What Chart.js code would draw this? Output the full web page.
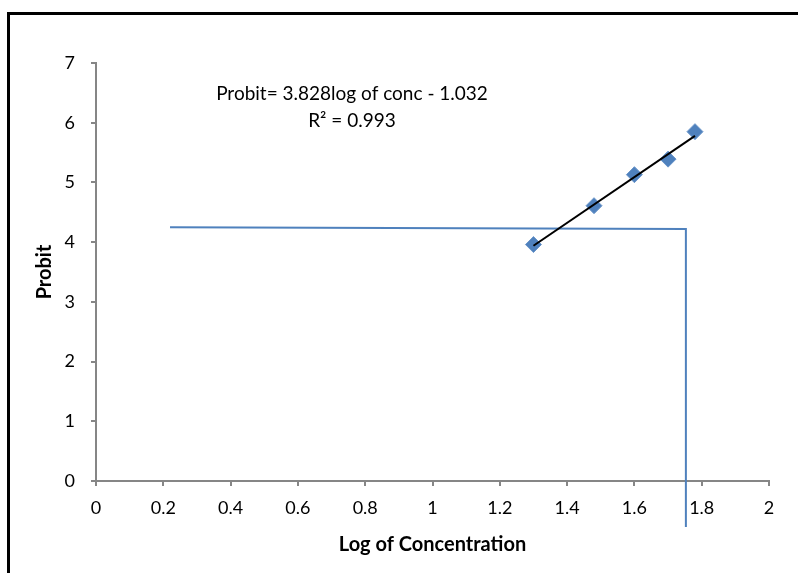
<!DOCTYPE html>
<html>
<head>
<meta charset="utf-8">
<script src="https://cdn.jsdelivr.net/npm/chart.js@4"></script>
<style>
html,body{margin:0;padding:0;background:#fff;}
#wrap{position:relative;width:798px;height:573px;}
</style>
</head>
<body>
<div id="wrap"><canvas id="c" width="798" height="573"></canvas></div>
<script>
// Data
const logConc = [1.3, 1.48, 1.6, 1.7, 1.78];
const probit = [3.96, 4.61, 5.13, 5.39, 5.85];
const trendX = [1.3, 1.78];
const trendY = [3.94, 5.78];
const refX = [0.22, 1.753, 1.753];
const refY = [4.25, 4.22, -0.77];
const xTicks = [0, 0.2, 0.4, 0.6, 0.8, 1, 1.2, 1.4, 1.6, 1.8, 2];
const yTicks = [0, 1, 2, 3, 4, 5, 6, 7];
const eqLine1 = 'Probit= 3.828log of conc - 1.032';
const eqLine2 = 'R² = 0.993';
const xTitle = 'Log of Concentration';
const yTitle = 'Probit';

const FONT = 'Lato, "Open Sans", sans-serif';
const BLUE = '#4F81BD';
const AXIS = '#868686';

const toPts = (xs, ys) => xs.map((x, i) => ({x: x, y: ys[i]}));

const framePlugin = {
  id: 'frame',
  afterDraw(chart) {
    const ctx = chart.ctx;
    const a = chart.chartArea;
    ctx.save();
    ctx.fillStyle = '#000';
    ctx.fillRect(7, 12, 3, 573);
    ctx.fillRect(7, 12, 798, 3);
    ctx.textAlign = 'center';
    ctx.textBaseline = 'middle';
    ctx.font = '19px ' + FONT;
    ctx.fillText(eqLine1, 352, 94);
    ctx.fillText(eqLine2, 352, 121);
    ctx.font = 'bold 20px ' + FONT;
    ctx.fillText(xTitle, (a.left + a.right) / 2, 545);
    ctx.translate(45, (a.top + a.bottom) / 2);
    ctx.rotate(-Math.PI / 2);
    ctx.fillText(yTitle, 0, 0);
    ctx.restore();
  }
};

new Chart(document.getElementById('c'), {
  type: 'scatter',
  data: {
    datasets: [
      {
        label: 'ref',
        data: toPts(refX, refY),
        showLine: true,
        borderColor: BLUE,
        borderWidth: 2,
        pointRadius: 0,
        fill: false,
        clip: false,
        order: 3
      },
      {
        label: 'trend',
        data: toPts(trendX, trendY),
        showLine: true,
        borderColor: '#000',
        borderWidth: 2,
        pointRadius: 0,
        fill: false,
        order: 1
      },
      {
        label: 'probit',
        data: toPts(logConc, probit),
        pointStyle: 'rectRot',
        pointRadius: 8,
        pointHoverRadius: 8,
        backgroundColor: BLUE,
        borderColor: '#6A95C9',
        borderWidth: 1,
        showLine: false,
        order: 2
      }
    ]
  },
  options: {
    responsive: false,
    animation: false,
    devicePixelRatio: 1,
    layout: { padding: { left: 0, right: 29, top: 63, bottom: 0 } },
    plugins: { legend: { display: false }, tooltip: { enabled: false } },
    scales: {
      x: {
        type: 'linear',
        min: 0, max: 2,
        afterBuildTicks: (s) => { s.ticks = xTicks.map(v => ({value: v})); },
        afterFit: (s) => { s.height = 92; },
        grid: { display: true, drawOnChartArea: false, drawTicks: true, tickLength: 5, color: AXIS, lineWidth: 2 },
        border: { display: true, color: AXIS, width: 2 },
        ticks: { color: '#000', font: { family: FONT, size: 18 }, padding: 11, maxRotation: 0, autoSkip: false,
                 callback: (v) => String(v) },
        title: { display: false }
      },
      y: {
        type: 'linear',
        min: 0, max: 7,
        afterBuildTicks: (s) => { s.ticks = yTicks.map(v => ({value: v})); },
        afterFit: (s) => { s.width = 96; },
        grid: { display: true, drawOnChartArea: false, drawTicks: true, tickLength: 5, color: AXIS, lineWidth: 2 },
        border: { display: true, color: AXIS, width: 2 },
        ticks: { color: '#000', font: { family: FONT, size: 18 }, padding: 16, autoSkip: false,
                 callback: (v) => String(v) },
        title: { display: false }
      }
    }
  },
  plugins: [framePlugin]
});
</script>
</body>
</html>
